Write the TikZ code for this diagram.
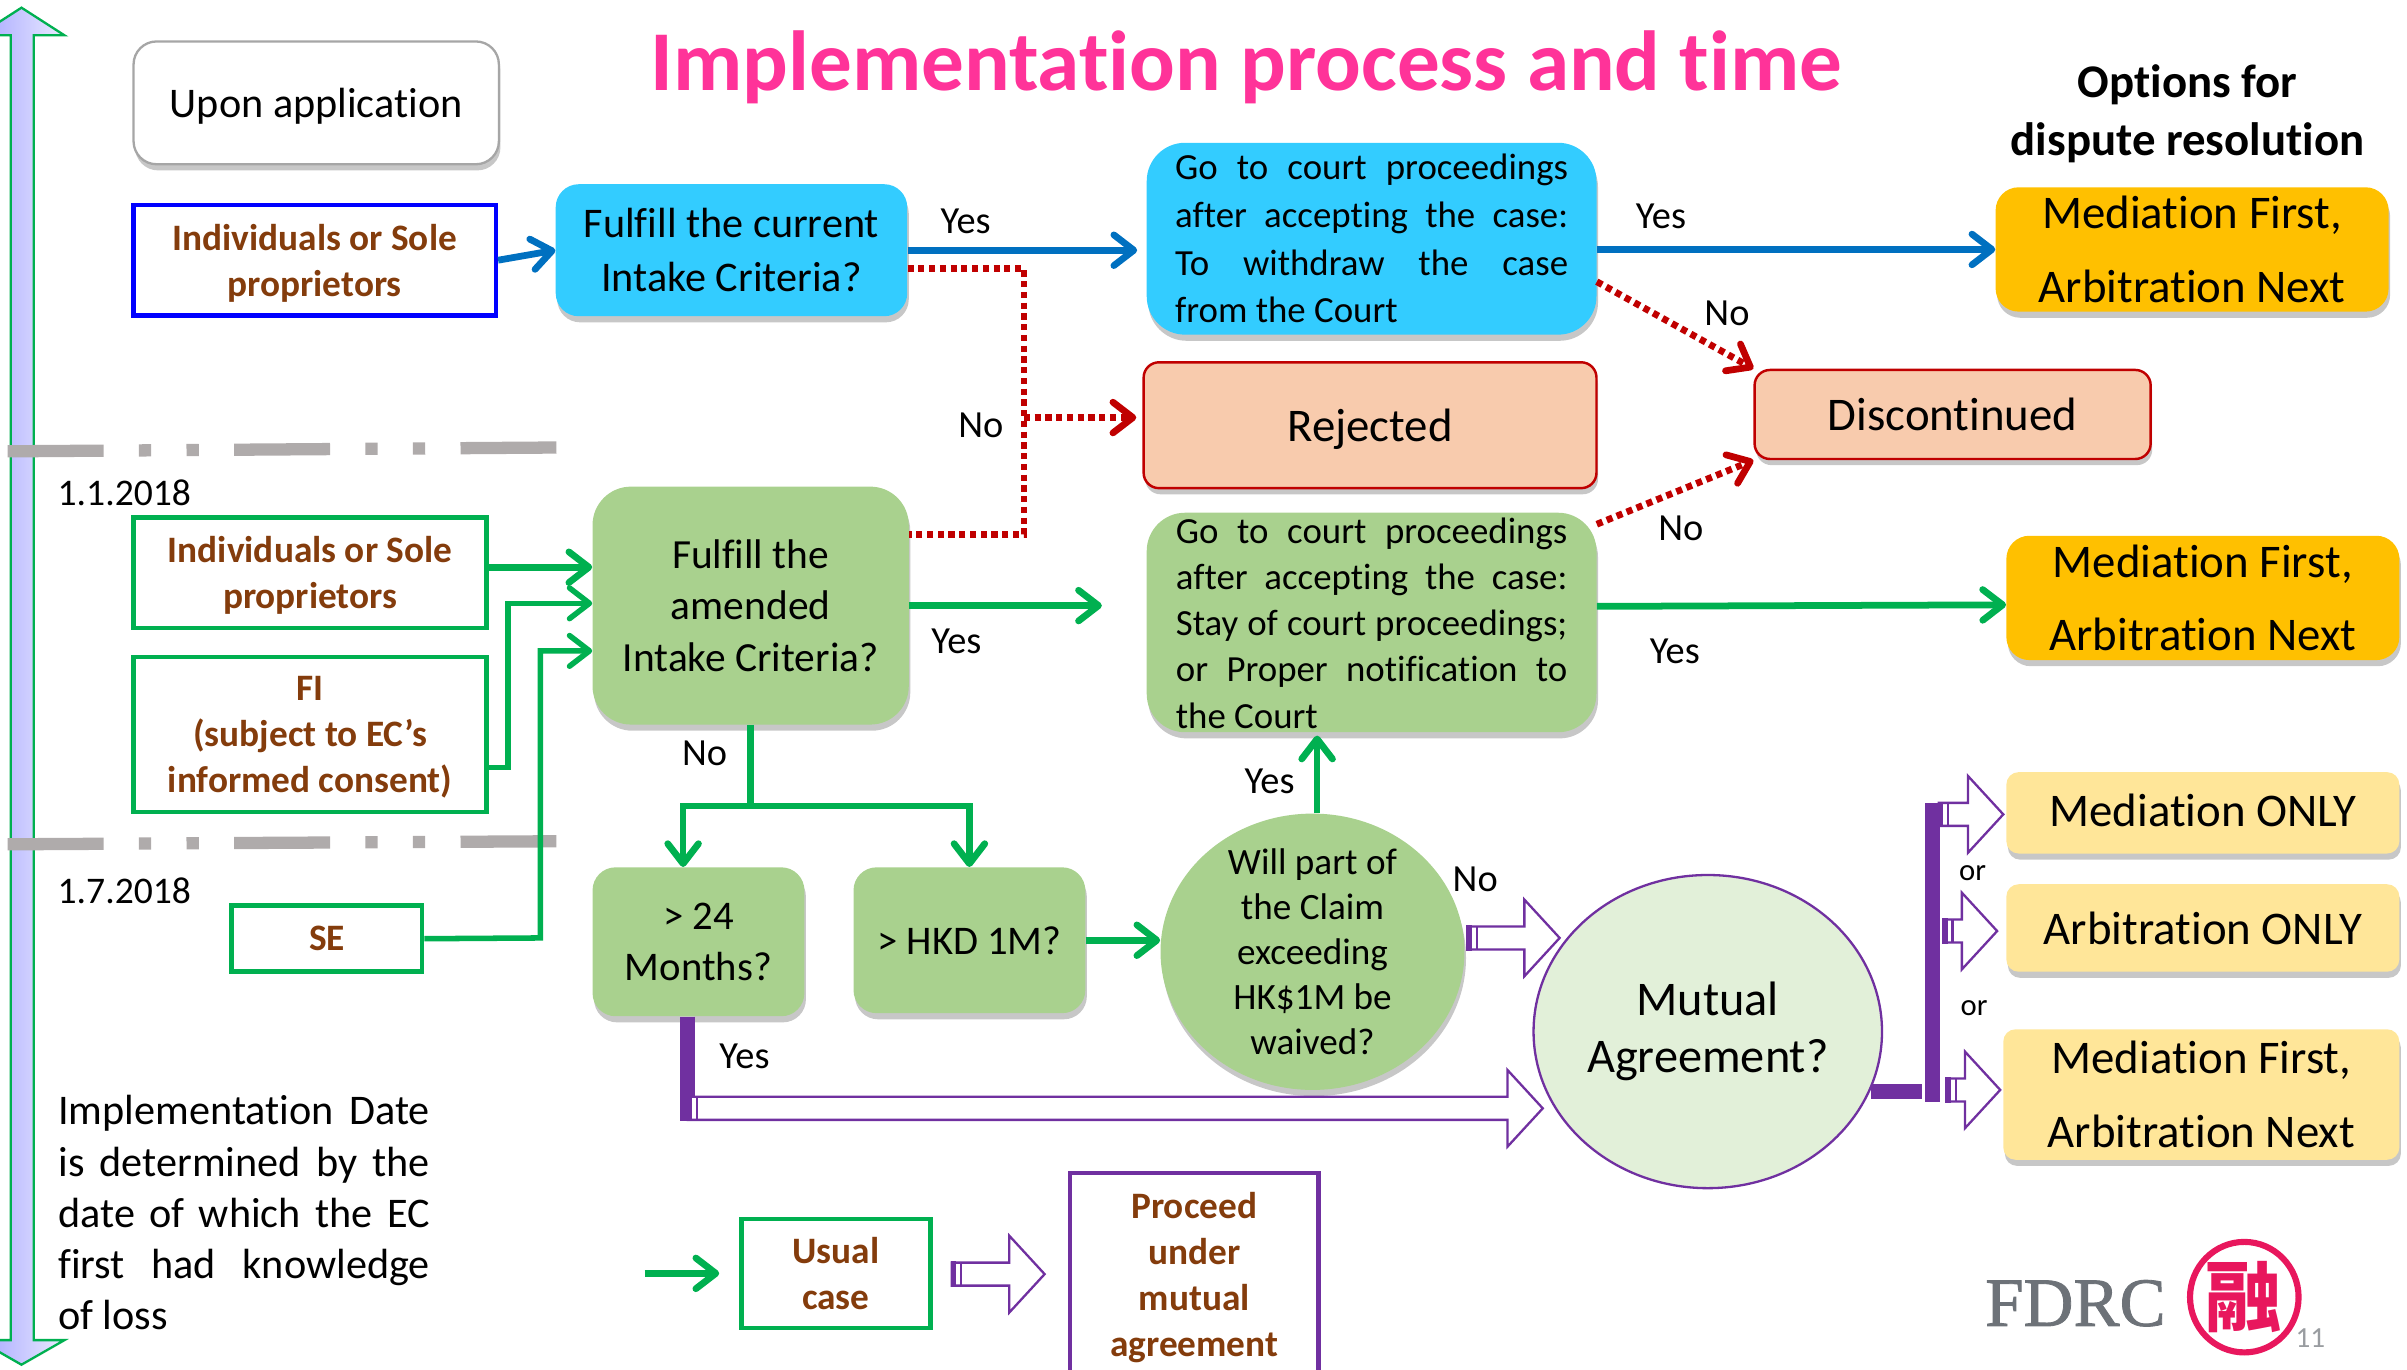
\documentclass[tikz,border=0pt]{standalone}
\usepackage{fontspec}
\setmainfont{Carlito}[Ligatures=NoCommon]
\newfontfamily\cjk{Noto Sans CJK SC}
\newfontfamily\logofont{Liberation Serif}[FakeBold=1.2]
\usetikzlibrary{arrows.meta,shapes.geometric,positioning,calc,shadows}

\definecolor{pinktitle}{HTML}{FF3399}
\definecolor{skyfill}{HTML}{33CCFF}
\definecolor{leaffill}{HTML}{A9D18E}
\definecolor{palefill}{HTML}{E2F0D9}
\definecolor{salmonfill}{HTML}{F8CBAD}
\definecolor{amberfill}{HTML}{FFC000}
\definecolor{creamfill}{HTML}{FFE699}
\definecolor{brownink}{HTML}{843C0C}
\definecolor{greenline}{HTML}{00B050}
\definecolor{blueline}{HTML}{0070C0}
\definecolor{redline}{HTML}{C00000}
\definecolor{purpleline}{HTML}{7030A0}
\definecolor{greyline}{HTML}{AFABAB}
\definecolor{sealred}{HTML}{E8175D}
\definecolor{logogrey}{HTML}{6D7278}

\tikzset{
    softshadow/.style={drop shadow={shadow xshift=1pt,shadow yshift=-4pt,fill=black,opacity=0.22}},
    flowbox/.style={rectangle,rounded corners=15pt,inner sep=0pt,align=center,softshadow},
    who/.style={rectangle,draw,line width=3pt,inner sep=0pt,align=center,text=brownink,text depth=0pt,
        font=\fontsize{24.3}{30}\selectfont\bfseries},
    sky/.style={flowbox,fill=skyfill},
    leaf/.style={flowbox,fill=leaffill},
    salmon/.style={flowbox,fill=salmonfill,draw=redline,line width=1.6pt,rounded corners=10pt},
    amber/.style={flowbox,fill=amberfill,font=\fontsize{30.5}{48}\selectfont},
    cream/.style={flowbox,fill=creamfill,rounded corners=8pt,font=\fontsize{30.5}{48}\selectfont},
    label/.style={inner sep=0pt,font=\fontsize{25}{30}\selectfont},
    greenarrow/.style={draw=greenline,line width=4.4pt,-{Straight Barb[round,length=13pt,width=20pt]}},
    bluearrow/.style={draw=blueline,line width=4.4pt,-{Straight Barb[round,length=13pt,width=20pt]}},
    redarrow/.style={draw=redline,line width=4.4pt,dash pattern=on 4pt off 3pt,-{Straight Barb[round,length=13pt,width=20pt]}},
    redpath/.style={draw=redline,line width=4.4pt,dash pattern=on 4pt off 3pt},
    hollow/.style={draw=purpleline,line width=1.5pt,fill=white},
    purplebar/.style={draw=purpleline,line width=10pt},
}

% hollow block arrow between two points on one level
\newcommand{\hollowarrow}[2]{
    \draw[hollow] let \p1=(#1), \p2=(#2) in
        (\x1,\y1+7.5pt) -- (\x2-23pt,\y1+7.5pt) -- (\x2-23pt,\y1+25pt) -- (\x2,\y1)
        -- (\x2-23pt,\y1-25pt) -- (\x2-23pt,\y1-7.5pt) -- (\x1,\y1-7.5pt) -- cycle;
    \draw[hollow,fill=purpleline] let \p1=(#1) in
        (\x1,\y1+7.5pt) rectangle (\x1+2pt,\y1-7.5pt);
    \draw[hollow] let \p1=(#1) in (\x1+6pt,\y1+7.5pt) -- (\x1+6pt,\y1-7.5pt);
}

\begin{document}
\begin{tikzpicture}[x=1pt,y=-1pt]
    \useasboundingbox (0,0) rectangle (1568,892);
    \clip (0,0) rectangle (1568,892);

    % Time axis
    \path[draw=greenline,line width=1.5pt,left color=blue!35!white,right color=blue!8!white]
        (14,5) -- (42,23) -- (22,23) -- (22,873) -- (42,873) -- (14,889) -- (-14,873)
        -- (7,873) -- (7,23) -- (-14,23) -- cycle;

    % Date dividers
    \foreach \ya/\yb in {294/291.5,550/548} {
        \draw[greyline,line width=8pt,dash pattern=on 62.5pt off 23pt on 8pt off 23pt on 8pt off 23pt]
            (5,\ya) -- (365,\yb);
    }
    \node[label,font=\fontsize{24.5}{30}\selectfont] (dateone) at (81,321) {1.1.2018};
    \node[label,font=\fontsize{24.5}{30}\selectfont] (datetwo) at (81,580) {1.7.2018};

    % Title
    \node[text=pinktitle,inner sep=0pt,font=\fontsize{55.5}{60}\selectfont\bfseries] (title) at (812,44)
        {Implementation process and time};
    \node[align=center,inner sep=0pt,font=\fontsize{30.5}{38}\selectfont\bfseries] (options) at (1425,74)
        {Options for\\dispute resolution};

    % Parties
    \node[flowbox,fill=white,draw=gray!70,line width=1.5pt,minimum width=238pt,minimum height=80pt,text depth=0pt,
        font=\fontsize{27.5}{33}\selectfont] (upon) at (206,67) {Upon application};
    \node[who,draw=blue,minimum width=236pt,minimum height=72pt] (indivone) at (205,169.5)
        {Individuals or Sole\\proprietors};
    \node[who,draw=greenline,minimum width=230pt,minimum height=72pt] (indivtwo) at (202,373)
        {Individuals or Sole\\proprietors};
    \node[who,draw=greenline,minimum width=230pt,minimum height=101pt] (fi) at (202,478.5)
        {FI\\(subject to EC’s\\informed consent)};
    \node[who,draw=greenline,minimum width=124pt,minimum height=43pt] (se) at (213,611.5) {SE};

    % Intake criteria
    \node[sky,minimum width=229pt,minimum height=86pt,font=\fontsize{27.5}{35}\selectfont] (fulfillone) at (476.5,163)
        {Fulfill the current\\Intake Criteria?};
    \node[leaf,rounded corners=25pt,minimum width=206pt,minimum height=155pt,
        font=\fontsize{27}{33.5}\selectfont] (amended) at (489,394.5)
        {Fulfill the\\amended\\Intake Criteria?};
    \node[leaf,minimum width=138pt,minimum height=97pt,font=\fontsize{26.5}{33}\selectfont] (months) at (455,613.5)
        {> 24\\Months?};
    \node[leaf,minimum width=151pt,minimum height=95pt,font=\fontsize{26.5}{33}\selectfont] (hkd) at (631.5,612.5)
        {> HKD 1M?};
    \node[ellipse,fill=leaffill,softshadow,inner sep=0pt,minimum width=198pt,minimum height=180pt] (waived) at (855,620) {};
    \node[align=center,inner sep=0pt,font=\fontsize{24.2}{29.3}\selectfont] (waivedtext) at (855,620)
        {Will part of\\the Claim\\exceeding\\HK\$1M be\\waived?};

    % Court proceedings
    \node[sky,rounded corners=25pt,minimum width=293pt,minimum height=125pt] (courtone) at (893.5,155.5) {};
    \node[text width=256pt,align=justify,inner sep=0pt,font=\fontsize{24}{31}\selectfont] (courtonetext) at (893.5,155.5)
        {Go to court proceedings\linebreak after accepting the case:\linebreak To withdraw the case\linebreak from the Court};
    \node[leaf,rounded corners=25pt,minimum width=293pt,minimum height=143pt] (courttwo) at (893.5,405.5) {};
    \node[text width=255pt,align=justify,inner sep=0pt,font=\fontsize{24}{30}\selectfont] (courttwotext) at (893.5,406)
        {Go to court proceedings\linebreak after accepting the case:\linebreak Stay of court proceedings;\linebreak or Proper notification to\linebreak the Court};

    % Outcomes
    \node[salmon,minimum width=295pt,minimum height=82pt,font=\fontsize{30.5}{36}\selectfont,text depth=0pt] (rejected) at (892.5,277) {Rejected};
    \node[salmon,minimum width=258pt,minimum height=58pt,font=\fontsize{30.5}{36}\selectfont] (discontinued) at (1272,270) {Discontinued};
    \node[amber,minimum width=256pt,minimum height=81pt] (medone) at (1428,162.5) {Mediation First,\\Arbitration Next};
    \node[amber,minimum width=256pt,minimum height=81pt] (medtwo) at (1435,389.5) {Mediation First,\\Arbitration Next};
    \node[cream,minimum width=256pt,minimum height=53pt,text depth=4pt] (medonly) at (1435,529.5) {Mediation ONLY};
    \node[cream,minimum width=256pt,minimum height=57pt] (arbonly) at (1435,604.5) {Arbitration ONLY};
    \node[cream,minimum width=258pt,minimum height=85pt] (medfirst) at (1434,713) {Mediation First,\\Arbitration Next};
    \node[ellipse,fill=palefill,draw=purpleline,line width=1.5pt,inner sep=0pt,minimum width=227pt,minimum height=204pt,
        align=center,font=\fontsize{31.5}{37}\selectfont] (mutual) at (1112.5,672) {Mutual\\Agreement?};

    % Legend and note
    \node[who,draw=greenline,minimum width=123pt,minimum height=71pt] (usual) at (544.5,829.5) {Usual\\case};
    \node[who,draw=purpleline,minimum width=162pt,minimum height=132pt] (proceed) at (778,830)
        {Proceed\\under\\mutual\\agreement};
    \node[text width=242pt,align=justify,inner sep=0pt,font=\fontsize{27.5}{33.3}\selectfont] (note) at (159,790)
        {Implementation Date\linebreak is determined by the\linebreak date of which the EC\linebreak first had knowledge\linebreak of loss};

    % Logo
    \node[text=logogrey,inner sep=0pt,font=\logofont\fontsize{45}{50}\selectfont] (fdrc) at (1352,849) {FDRC};
    \node[ellipse,draw=sealred,line width=4pt,inner sep=0pt,minimum width=70pt,minimum height=72pt,
        text=sealred,font=\cjk\fontsize{50}{50}\selectfont\bfseries] (seal) at (1462,845) {融};
    \node[text=logogrey!70,inner sep=0pt,font=\fontsize{19}{22}\selectfont] (pageno) at (1505,872) {11};

    % Yes and No labels
    \foreach \px/\py/\word/\tag in {629/144/Yes/a,1082/141/Yes/b,623/418/Yes/c,1091/424/Yes/d,827/509/Yes/e,485/688/Yes/f,
        639/277/No/g,1125/204/No/h,1095/344/No/i,459/491/No/j,961/573/No/k} {
        \node[label] (word\tag) at (\px,\py) {\word};
    }
    \node[label,font=\fontsize{20}{24}\selectfont] (orone) at (1285,569) {or};
    \node[label,font=\fontsize{20}{24}\selectfont] (ortwo) at (1286,657) {or};

    % Joints of the connectors
    \coordinate (rejtop) at (667,175);
    \coordinate (rejmid) at (667,272);
    \coordinate (rejbot) at (667,348);
    \coordinate (fijoint) at (331,500);
    \coordinate (sejoint) at (352,611);
    \coordinate (split) at (489,525);
    \coordinate (legendin) at (420,829.5);
    \coordinate (yesbar) at (448,722);
    \coordinate (stubstart) at (1219,711);
    \coordinate (stubend) at (1252,711);
    \coordinate (bartop) at (1259,523);
    \coordinate (barbot) at (1259,718);

    % Top route
    \draw[bluearrow] (indivone.east) -- (fulfillone.west);
    \draw[bluearrow,shorten >=6pt] (fulfillone.east) -- (fulfillone.east -| courtone.west);
    \draw[bluearrow] (medone.west -| courtone.east) -- (medone.west);

    % Red routes
    \draw[redpath] ([yshift=-12pt]fulfillone.east) -- (rejtop) -- (rejbot) -- ([yshift=46.5pt]amended.east);
    \draw[redarrow,shorten >=4pt] (rejmid) -- (rejmid -| rejected.west);
    \draw[redarrow] ([yshift=-28pt]courtone.east) -- (discontinued.north west);
    \draw[redarrow] ([yshift=64pt]courttwo.east) -- (discontinued.south west);

    % Green routes
    \draw[greenarrow] ([yshift=3.5pt]indivtwo.east) -- ([yshift=25pt]amended.west);
    \draw[greenarrow,line width=3.6pt] ([yshift=-21.5pt]fi.east) -- (fijoint) |- ([yshift=1.5pt]amended.west);
    \draw[greenarrow,line width=3.6pt] (se.east) -- (sejoint) |- ([yshift=-29.5pt]amended.west);
    \draw[greenarrow,shorten >=29pt] (amended.east) -- (amended.east -| courttwo.west);
    \draw[greenarrow] ([yshift=10.5pt]courttwo.east) -- ([yshift=-4.5pt]medtwo.west);
    \draw[draw=greenline,line width=4.4pt] (amended.south) -- (split);
    \draw[greenarrow] (split) -| ([xshift=-10pt]months.north);
    \draw[greenarrow] (split) -| (hkd.north);
    \draw[greenarrow] (hkd.east) -- (hkd.east -| waived.west);
    \draw[greenarrow,shorten >=2pt] ([xshift=3pt]waived.north) -- ([xshift=3pt]waived.north |- courttwo.south);
    \draw[greenarrow,shorten >=13pt] (legendin) -- (usual.west);

    % Mutual agreement routes
    \hollowarrow{956,611}{1016,611}
    \draw[purplebar] ([xshift=-7pt]months.south) -- ([yshift=-8pt]yesbar);
    \hollowarrow{yesbar}{1005,722}
    \draw[purplebar] (stubstart) -- (stubend);
    \draw[purplebar] (bartop) -- (barbot);
    \hollowarrow{1263,530.5}{1305,530.5}
    \hollowarrow{1266,606.5}{1301,606.5}
    \hollowarrow{1268,710}{1303,710}
    \hollowarrow{620,830}{680.5,830}
\end{tikzpicture}
\end{document}
